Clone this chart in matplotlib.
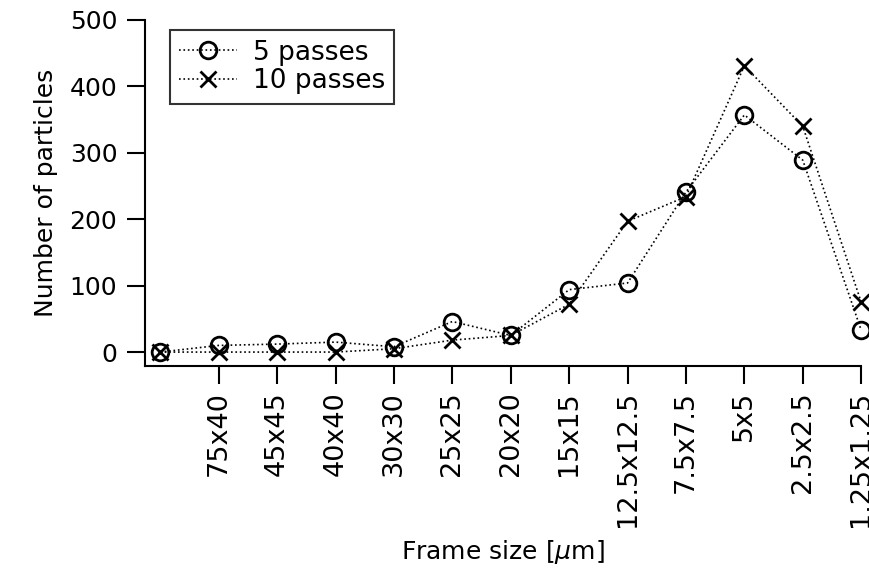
import matplotlib
matplotlib.use("Agg")
import matplotlib.pyplot as plt

# frame sizes (first point has no label)
frame_labels = ["", "75x40", "45x45", "40x40", "30x30", "25x25", "20x20",
                "15x15", "12.5x12.5", "7.5x7.5", "5x5", "2.5x2.5", "1.25x1.25"]
passes_5 = [0, 10, 12, 15, 8, 46, 25, 94, 104, 241, 357, 289, 33]
passes_10 = [0, 0, 0, 0, 5, 18, 25, 72, 197, 234, 431, 340, 75]

plt.rcParams["font.family"] = "DejaVu Sans"
plt.rcParams["mathtext.fontset"] = "dejavusans"
FS = 18

fig = plt.figure(figsize=(8.69, 5.71), dpi=100)
ax = fig.add_axes([0.167, 0.359, 0.824, 0.606])

x = list(range(len(frame_labels)))
ax.plot(x, passes_5, color="black", linestyle=":", linewidth=1.2,
        marker="o", markersize=12, markerfacecolor="none",
        markeredgewidth=2, label="5 passes", clip_on=False)
ax.plot(x, passes_10, color="black", linestyle=":", linewidth=1.2,
        marker="x", markersize=12, markeredgewidth=2,
        label="10 passes", clip_on=False)

ax.set_xlim(-0.26, 12)
ax.set_ylim(-21, 500)
ax.set_yticks([0, 100, 200, 300, 400, 500])
ax.set_xticks(x[1:])
ax.set_xticklabels(frame_labels[1:], rotation=90)

for s in ["top", "right"]:
    ax.spines[s].set_visible(False)
for s in ["left", "bottom"]:
    ax.spines[s].set_linewidth(1.5)
ax.tick_params(direction="out", length=13, width=1.5, pad=7, labelsize=FS)
ax.tick_params(axis="x", labelsize=19.5, pad=5)

ax.set_xlabel("Frame size [$\\mu$m]", fontsize=FS, labelpad=8)
ax.set_ylabel("Number of particles", fontsize=FS, labelpad=8)

leg = ax.legend(loc="upper left", bbox_to_anchor=(0.016, 1.008), frameon=True,
                fancybox=False, edgecolor="black", handlelength=2.2,
                borderpad=0.35, labelspacing=0.1, handletextpad=0.6,
                fontsize=19)
leg.get_frame().set_linewidth(1.5)

fig.savefig("out.png", dpi=100)
